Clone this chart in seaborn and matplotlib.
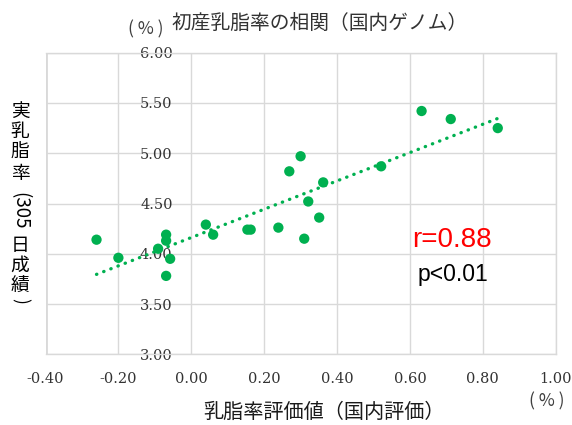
import matplotlib
matplotlib.use("Agg")
import matplotlib.pyplot as plt
import seaborn as sns
import pandas as pd

# ---- data ----
breeding_value = [-0.260, -0.200, -0.091, -0.069, -0.069, -0.058, -0.069, 0.040, 0.060,
                  0.154, 0.163, 0.239, 0.269, 0.300, 0.321, 0.351, 0.310, 0.362,
                  0.632, 0.712, 0.841, 0.521]
milk_fat = [4.14, 3.96, 4.05, 4.19, 4.13, 3.95, 3.78, 4.29, 4.19,
            4.24, 4.24, 4.26, 4.82, 4.97, 4.52, 4.36, 4.15, 4.71,
            5.42, 5.34, 5.25, 4.87]
x_ticks = [-0.4, -0.2, 0.0, 0.2, 0.4, 0.6, 0.8, 1.0]
x_tick_labels = ["-0.40", "-0.20", "0.00", "0.20", "0.40", "0.60", "0.80", "1.00"]
y_ticks = [3.0, 3.5, 4.0, 4.5, 5.0, 5.5, 6.0]
y_tick_labels = ["3.00", "3.50", "4.00", "4.50", "5.00", "5.50", "6.00"]
title = "初産乳脂率の相関（国内ゲノム）"
x_label = "乳脂率評価値（国内評価）"
r_text = "r=0.88"
p_text = "p<0.01"

df = pd.DataFrame({"x": breeding_value, "y": milk_fat})

sns.set_style("white")
plt.rcParams["axes.unicode_minus"] = False
CJK = ["Noto Sans CJK JP", "DejaVu Sans"]
plt.rcParams["font.family"] = CJK

W, H = 572, 425
fig = plt.figure(figsize=(W / 100, H / 100), dpi=100)
left, right, top, bottom = 45.5, 555.7, 52.7, 354.3
ax = fig.add_axes([left / W, 1 - bottom / H, (right - left) / W, (bottom - top) / H])

GREEN = "#00B050"
GRID = "#d9d9d9"

sns.scatterplot(data=df, x="x", y="y", ax=ax, color=GREEN, s=55,
                edgecolor="none", zorder=4, legend=False)
sns.regplot(data=df, x="x", y="y", ax=ax, scatter=False, ci=None, truncate=True,
            line_kws=dict(color=GREEN, lw=2.4, linestyle=(0, (0.1, 2.2)),
                          dash_capstyle="round", zorder=3))

ax.set_xlim(-0.4, 1.0)
ax.set_ylim(3.0, 6.0)
ax.set_xticks(x_ticks)
ax.set_xticklabels(x_tick_labels)
ax.set_yticks(y_ticks)
ax.set_yticklabels(y_tick_labels)
ax.grid(True, color=GRID, lw=1.0, zorder=0)
ax.set_axisbelow(True)

for s in ["top", "right", "bottom"]:
    ax.spines[s].set_visible(True)
    ax.spines[s].set_color(GRID)
    ax.spines[s].set_linewidth(1.0)
ax.spines["left"].set_position(("data", 0))
ax.spines["left"].set_visible(False)
ax.axvline(-0.4, color=GRID, lw=2.0, zorder=0)

ax.tick_params(axis="both", length=0, labelsize=10.5, labelcolor="#333333")
ax.tick_params(axis="y", pad=13.5)
ax.tick_params(axis="x", pad=12.5)
for lab in ax.get_xticklabels() + ax.get_yticklabels():
    lab.set_family("DejaVu Serif")
ax.set_xlabel("")
ax.set_ylabel("")

# r / p annotations
ax.text(0.607, 4.14, r_text, color="#FF0000", fontsize=20,
        family="Liberation Sans", ha="left", va="center", zorder=5)
ax.text(0.622, 3.79, p_text, color="#000000", fontsize=16.5,
        family="Liberation Sans", ha="left", va="center", zorder=5)

def fx(px):
    return px / W

def fy(py):
    return 1 - py / H

# title
fig.text(fx(320), fy(24), title, fontsize=14.2, color="#333333",
         ha="center", va="center", family=CJK)
fig.text(fx(146), fy(29), "( % )", fontsize=12.5, color="#404040",
         ha="center", va="center", family=CJK)

# x label
fig.text(fx(324), fy(412), x_label, fontsize=14.5, color="#1a1a1a",
         ha="center", va="center", family=CJK)
fig.text(fx(547), fy(401), "( % )", fontsize=12.5, color="#404040",
         ha="center", va="center", family=CJK)

# vertical y label
ylab_x = fx(20)
for ch, py in [("実", 111.5), ("乳", 131.5), ("脂", 152.5), ("率", 173.5),
               ("日", 246), ("成", 265.5), ("績", 285)]:
    fig.text(ylab_x, fy(py), ch, fontsize=13.5, color="#000000",
             ha="center", va="center", family=CJK)
fig.text(ylab_x, fy(211), "(305", fontsize=13.5, color="#000000", rotation=270,
         ha="center", va="center", family=CJK)
fig.text(ylab_x, fy(301), ")", fontsize=12.5, color="#000000", rotation=270,
         ha="center", va="center", family=CJK)

fig.savefig("out.png", dpi=100)
